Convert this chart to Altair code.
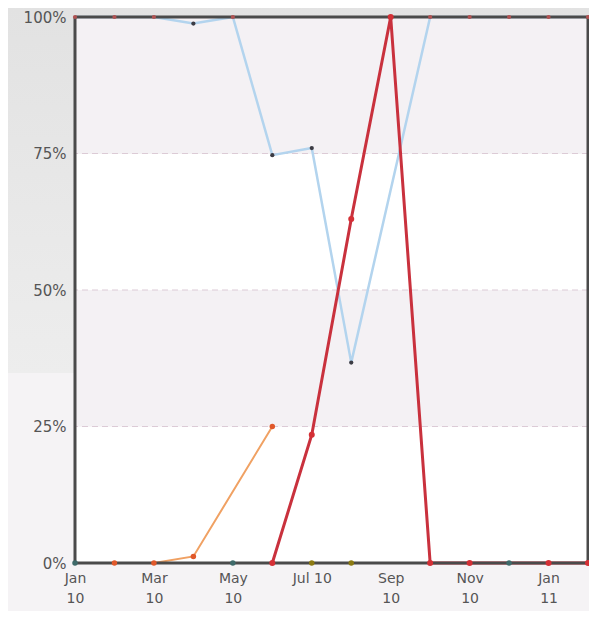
import json
import altair as alt
import pandas as pd

# ---- data ----
month_idx = list(range(14))  # Jan 10 .. Feb 11
share_blue = [1.0, 1.0, 1.0, 0.988, 1.0, 0.747, 0.76, 0.367, None, 1.0, 1.0, 1.0, 1.0, 1.0]
share_red = [None, None, None, None, None, 0.0, 0.235, 0.63, 1.0, 0.0, 0.0, None, 0.0, 0.0]
share_orange = [None, 0.0, 0.0, 0.012, None, 0.25, None, None, None, None, None, None, None, None]
share_teal = [0.0, None, None, None, 0.0, None, None, None, None, None, None, 0.0, None, None]
share_olive = [None, None, None, None, None, None, 0.0, 0.0, None, None, None, None, None, None]

tick_months = [0, 2, 4, 6, 8, 10, 12]
tick_top = ["Jan", "Mar", "May", "Jul 10", "Sep", "Nov", "Jan"]
tick_bottom = ["10", "10", "10", "", "10", "10", "11"]

band_lo = [0.0, 0.25, 0.5, 0.75]
band_hi = [0.25, 0.5, 0.75, 1.0]
band_shade = ["light", "shade", "light", "shade"]
grid_vals = [0.25, 0.5, 0.75]


def series_df(name, vals):
    rows = [{"idx": i, "share": v, "series": name} for i, v in zip(month_idx, vals) if v is not None]
    return pd.DataFrame(rows)


blue_df = series_df("blue", share_blue)
red_df = series_df("red", share_red)
orange_df = series_df("orange", share_orange)
teal_df = series_df("teal", share_teal)
olive_df = series_df("olive", share_olive)
bands_df = pd.DataFrame({"lo": band_lo, "hi": band_hi, "shade": band_shade})
grid_df = pd.DataFrame({"v": grid_vals})

W, H = 513, 546
PAD_L, PAD_T, PAD_R, PAD_B = 67, 9, 1, 48
AXIS_COLOR = "#4a4a4a"
LABEL_COLOR = "#555555"
FONT = "DejaVu Sans"

tick_lines = [[t] if b == "" else [t, b] for t, b in zip(tick_top, tick_bottom)]
x_label_expr = f"{json.dumps(tick_lines)}[indexof({json.dumps(tick_months)}, datum.value)]"

x_scale = alt.Scale(domain=[0, 13], nice=False, zero=False)
y_scale = alt.Scale(domain=[0, 1], nice=False)

x_axis = alt.Axis(
    values=tick_months, labelExpr=x_label_expr, title=None, domain=False, ticks=False,
    grid=False, labelFont=FONT, labelFontSize=14, labelColor=LABEL_COLOR,
    labelPadding=8, labelLineHeight=20, labelOverlap=False, labelFlush=False,
    labelBound=False, zindex=1,
)
y_axis = alt.Axis(
    values=[0, 0.25, 0.5, 0.75, 1.0], format=".0%", title=None, domain=False, ticks=False,
    grid=False, labelFont=FONT, labelFontSize=15, labelColor=LABEL_COLOR,
    labelPadding=9, labelOverlap=False, labelFlush=False, labelBound=False, zindex=1,
)

X = lambda: alt.X("idx:Q", scale=x_scale, axis=x_axis)
Y = lambda: alt.Y("share:Q", scale=y_scale, axis=y_axis)

# page background strip (grey gradient at top)
bg = alt.Chart(pd.DataFrame({"a": [0]})).mark_rect(
    color=alt.LinearGradient(
        gradient="linear", x1=0, y1=0, x2=0, y2=1,
        stops=[alt.GradientStop(color="#e2e2e2", offset=0),
               alt.GradientStop(color="#ededed", offset=1)],
    )
).encode(x=alt.value(-PAD_L), x2=alt.value(W + PAD_R), y=alt.value(-PAD_T), y2=alt.value(356))

bands = alt.Chart(bands_df).mark_rect().encode(
    x=alt.datum(0, scale=x_scale, axis=x_axis), x2=alt.datum(13),
    y=alt.Y("lo:Q", scale=y_scale, axis=y_axis), y2="hi:Q",
    color=alt.Color("shade:N", scale=alt.Scale(domain=["light", "shade"], range=["#ffffff", "#f4f1f4"]), legend=None),
)

grid = alt.Chart(grid_df).mark_rule(color="#dccbd6", strokeWidth=1, strokeDash=[6, 4]).encode(
    y=alt.Y("v:Q", scale=y_scale, axis=y_axis)
)

frame_src = alt.Chart(pd.DataFrame({"a": [0]}))
frame = alt.layer(
    frame_src.mark_rule(color=AXIS_COLOR, strokeWidth=3).encode(y=alt.datum(1.0, scale=y_scale, axis=y_axis)),
    frame_src.mark_rule(color=AXIS_COLOR, strokeWidth=3).encode(x=alt.datum(0, scale=x_scale, axis=x_axis)),
    frame_src.mark_rule(color=AXIS_COLOR, strokeWidth=3).encode(x=alt.datum(13, scale=x_scale, axis=x_axis)),
)
bottom_rule = frame_src.mark_rule(color=AXIS_COLOR, strokeWidth=3).encode(
    y=alt.datum(0, scale=y_scale, axis=y_axis)
)

blue_line = alt.Chart(blue_df).mark_line(color="#b3d4ee", strokeWidth=2.5).encode(x=X(), y=Y())
orange_line = alt.Chart(orange_df).mark_line(color="#f0a163", strokeWidth=2).encode(x=X(), y=Y())
red_line = alt.Chart(red_df).mark_line(color="#c9313d", strokeWidth=3).encode(x=X(), y=Y())

blue_pts = alt.Chart(blue_df).mark_circle(size=18, opacity=1).encode(
    x=X(), y=Y(),
    color=alt.condition("datum.share >= 1", alt.value("#b05252"), alt.value("#3c3c44")),
)
orange_pts = alt.Chart(orange_df).mark_circle(size=30, opacity=1, color="#e0582a").encode(x=X(), y=Y())
red_pts = alt.Chart(red_df).mark_circle(size=36, opacity=1, color="#d42f35").encode(x=X(), y=Y())
teal_pts = alt.Chart(teal_df).mark_circle(size=30, opacity=1, color="#3e6a6a").encode(x=X(), y=Y())
olive_pts = alt.Chart(olive_df).mark_circle(size=30, opacity=1, color="#8c7a12").encode(x=X(), y=Y())

chart = alt.layer(
    bg, bands, grid, blue_line, orange_line, frame, red_line, bottom_rule,
    blue_pts, orange_pts, red_pts, teal_pts, olive_pts,
).properties(
    width=W, height=H,
    autosize=alt.AutoSizeParams(type="none"),
    padding={"left": PAD_L, "top": PAD_T, "right": PAD_R, "bottom": PAD_B},
    background="#f5f3f5",
).configure_view(stroke=None)

chart.save("out.html", embed_options={"renderer": "svg", "actions": False})
